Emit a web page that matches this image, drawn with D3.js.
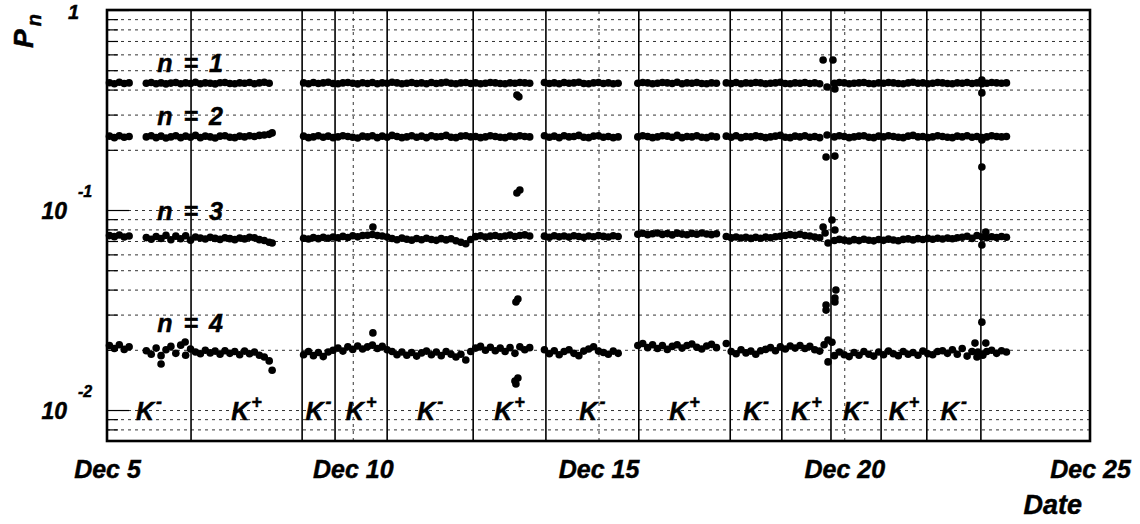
<!DOCTYPE html>
<html><head><meta charset="utf-8">
<script src="https://cdn.jsdelivr.net/npm/d3@7"></script>
<style>
html,body{margin:0;padding:0;background:#fff;}
svg text{font-family:"Liberation Sans",Arial,Helvetica,sans-serif;font-weight:bold;font-style:italic;fill:#000;stroke:#000;stroke-width:0.45px;}
</style></head><body>
<svg id="chart" width="1140" height="524"></svg>
<script>
// measurement times, days after Dec 5
const times = [
 0.05,0.15,0.25,0.35,0.45,
 0.8,0.9,1.0,1.1,1.2,1.3,1.4,1.5,1.6,1.7,1.8,1.9,2.0,2.1,2.2,2.3,2.4,2.5,2.6,2.7,2.8,2.9,3.0,3.1,3.2,3.3,
 4.0,4.1,4.2,4.3,4.4,4.5,4.6,4.7,4.8,4.9,5.0,5.1,5.2,5.3,5.4,5.5,5.6,5.7,5.8,5.9,6.0,6.1,6.2,6.3,6.4,6.5,6.6,6.7,6.8,6.9,7.0,7.1,7.2,7.3,7.4,7.5,7.6,7.7,7.8,7.9,8.0,8.1,8.2,8.3,8.4,8.5,8.6,
 8.9,9.0,9.1,9.2,9.3,9.4,9.5,9.6,9.7,9.8,9.9,10.0,10.1,10.2,10.3,10.4,
 10.8,10.9,11.0,11.1,11.2,11.3,11.4,11.5,11.6,11.7,11.8,11.9,12.0,12.1,12.2,12.3,12.4,
 12.6,12.7,12.8,12.9,13.0,13.1,13.2,13.3,13.4,13.5,13.6,13.7,13.8,13.9,14.0,14.1,14.2,14.3,14.4,14.5,
 14.8,14.9,15.0,15.1,15.2,15.3,15.4,15.5,15.6,15.7,15.8,15.9,16.0,16.1,16.2,16.3,16.4,16.5,16.6,16.7,16.8,16.9,17.0,17.1,17.2,17.3,17.4,17.5,17.6,17.7,17.8,17.9,18.0,18.1,18.2,18.3
];
const p1 = [
 .433,.428,.435,.429,.432,
 .430,.434,.428,.432,.427,.431,.434,.428,.432,.429,.435,.428,.432,.430,.427,.433,.434,.429,.428,.432,.430,.434,.428,.432,.435,.430,
 .432,.428,.434,.429,.432,.435,.429,.428,.432,.434,.430,.427,.433,.429,.434,.428,.432,.430,.435,.432,.428,.430,.434,.429,.432,.428,.434,.429,.432,.435,.430,.428,.432,.434,.429,.432,.428,.430,.434,.432,.429,.428,.432,.430,.434,.432,.430,
 .434,.429,.432,.428,.434,.430,.432,.435,.429,.428,.432,.434,.429,.432,.428,.430,
 .430,.434,.432,.428,.430,.434,.432,.429,.435,.428,.432,.430,.434,.429,.428,.432,.430,
 .432,.429,.434,.428,.432,.430,.434,.432,.428,.430,.432,.435,.429,.428,.432,.430,.434,.429,.432,.428,
 .430,.434,.432,.428,.430,.432,.434,.429,.428,.432,.430,.434,.432,.429,.428,.432,.435,.430,.432,.428,.430,.434,.432,.429,.428,.432,.430,.434,.429,.432,.428,.430,.434,.432,.430,.432
];
const p2 = [
 .234,.230,.235,.231,.233,
 .232,.235,.230,.234,.229,.232,.235,.230,.234,.231,.236,.230,.234,.232,.229,.234,.235,.231,.230,.234,.232,.235,.233,.236,.237,.239,
 .234,.230,.232,.235,.231,.234,.230,.232,.235,.233,.231,.229,.234,.232,.235,.230,.234,.231,.236,.233,.230,.232,.235,.231,.234,.230,.235,.232,.233,.236,.231,.230,.234,.235,.232,.233,.230,.232,.235,.233,.231,.230,.234,.232,.235,.233,.232,
 .235,.231,.234,.230,.235,.232,.233,.236,.231,.230,.234,.235,.231,.233,.230,.232,
 .232,.235,.233,.230,.232,.235,.234,.231,.236,.230,.233,.232,.235,.231,.230,.234,.232,
 .234,.231,.235,.230,.233,.232,.235,.233,.230,.232,.234,.236,.231,.230,.234,.232,.235,.231,.233,.230,
 .232,.235,.233,.230,.232,.234,.235,.231,.230,.234,.232,.235,.233,.231,.230,.234,.236,.232,.233,.230,.232,.235,.233,.231,.230,.234,.232,.235,.231,.233,.230,.232,.235,.233,.232,.233
];
const p3 = [
 .0745,.0736,.0750,.0733,.0742,
 .0728,.0714,.0737,.0720,.0747,.0710,.0740,.0718,.0744,.0707,.0733,.0724,.0716,.0730,.0721,.0713,.0727,.0719,.0711,.0725,.0717,.0731,.0726,.0711,.0704,.0690,
 .0722,.0716,.0728,.0719,.0730,.0722,.0733,.0727,.0738,.0729,.0743,.0734,.0746,.0748,.0754,.0745,.0741,.0732,.0720,.0710,.0725,.0714,.0707,.0720,.0710,.0723,.0712,.0705,.0719,.0709,.0718,.0702,.0690,.0678,.0712,.0736,.0743,.0732,.0740,.0746,.0735,.0742,.0749,.0737,.0746,.0751,.0742,
 .0740,.0731,.0743,.0734,.0741,.0732,.0744,.0737,.0730,.0742,.0735,.0745,.0738,.0733,.0743,.0737,
 .0757,.0765,.0753,.0761,.0768,.0755,.0762,.0751,.0766,.0758,.0752,.0764,.0756,.0767,.0759,.0753,.0761,
 .0737,.0727,.0733,.0724,.0731,.0721,.0730,.0723,.0732,.0726,.0735,.0739,.0746,.0753,.0747,.0756,.0745,.0741,.0732,.0727,
 .0704,.0713,.0707,.0700,.0711,.0703,.0714,.0706,.0701,.0712,.0705,.0715,.0708,.0702,.0713,.0717,.0709,.0719,.0712,.0721,.0714,.0723,.0716,.0725,.0718,.0727,.0731,.0739,.0721,.0746,.0732,.0726,.0735,.0728,.0737,.0731
];
const p4 = [
 .0210,.0203,.0212,.0201,.0207,
 .0198,.0190,.0204,.0187,.0200,.0208,.0192,.0211,.0188,.0202,.0195,.0191,.0199,.0193,.0197,.0190,.0198,.0192,.0196,.0189,.0197,.0191,.0195,.0188,.0184,.0176,
 .0189,.0196,.0187,.0194,.0185,.0195,.0199,.0204,.0197,.0207,.0201,.0209,.0202,.0207,.0211,.0203,.0208,.0200,.0196,.0189,.0195,.0188,.0194,.0186,.0193,.0197,.0189,.0195,.0187,.0196,.0190,.0184,.0190,.0178,.0196,.0204,.0208,.0199,.0206,.0198,.0204,.0196,.0205,.0192,.0207,.0200,.0205,
 .0200,.0191,.0198,.0189,.0196,.0200,.0192,.0187,.0197,.0202,.0207,.0197,.0194,.0190,.0197,.0192,
 .0210,.0215,.0205,.0212,.0203,.0210,.0201,.0208,.0212,.0204,.0210,.0214,.0206,.0202,.0209,.0213,.0205,
 .0215,.0196,.0191,.0200,.0193,.0197,.0190,.0198,.0201,.0205,.0198,.0207,.0202,.0209,.0204,.0210,.0203,.0208,.0200,.0197,
 .0187,.0195,.0189,.0185,.0194,.0188,.0196,.0190,.0186,.0195,.0189,.0197,.0191,.0187,.0196,.0190,.0194,.0188,.0197,.0191,.0189,.0196,.0198,.0192,.0200,.0190,.0203,.0186,.0196,.0184,.0190,.0196,.0199,.0192,.0198,.0195
];
// isolated points (beam transitions etc.)
const outlierT = [1.10,1.59,3.36,3.36,3.36,5.41,5.41,
 8.34,8.38,8.34,8.40,8.32,8.36,8.30,8.36,8.32,
 14.57,14.77,14.65,14.81,14.65,14.63,14.81,14.57,14.75,14.81,14.67,14.61,14.83,14.81,14.63,14.63,14.81,14.67,14.75,14.67,14.59,
 17.80,17.80,17.80,17.80,17.88,17.80,17.80,17.66,17.88,17.82,17.72];
const outlierP = [.0170,.0219,.0158,.0684,.243,.0822,.0243,
 .376,.368,.1216,.1259,.0347,.0359,.01396,.01445,.0135,
 .562,.562,.412,.403,.237,.184,.186,.0822,.0891,.0794,.0684,.0767,.0398,.0347,.0335,.0316,.0363,.0224,.0218,.0174,.0212,
 .447,.385,.224,.164,.0776,.0668,.0275,.0216,.0216,.0188,.0195];

const runEdges = [1.71,3.97,4.64,5.70,7.45,8.93,10.82,12.68,13.73,14.73,15.75,16.68,17.78];
const runCharge = ["-","+","-","+","-","+","-","+","-","+","-","+","-"];
const xTickDays = [0,5,10,15,20];
const xTickLabels = ["Dec 5","Dec 10","Dec 15","Dec 20","Dec 25"];
const yMajorTicks = [0.01,0.1,1];
const yMajorBase = ["10","10","1"];
const yMajorExp = ["-2","-1",""];
const yMinorTicks = [0.008,0.009,0.02,0.03,0.04,0.05,0.06,0.07,0.08,0.09,0.2,0.3,0.4,0.5,0.6,0.7,0.8,0.9];
const seriesN = ["1","2","3","4"];
const seriesLabelP = [0.49,0.266,0.0891,0.0245];

const W=1140,H=524,m={left:107,top:10,right:50,bottom:83};
const pw=W-m.left-m.right, ph=H-m.top-m.bottom;
const x=d3.scaleLinear().domain([0,20]).range([m.left,W-m.right]);
const y=d3.scaleLog().domain([0.007,1]).range([H-m.bottom,m.top]);
const svg=d3.select('#chart');

// horizontal dotted grid
svg.append('g').attr('transform',`translate(${m.left},0)`)
 .call(d3.axisLeft(y).tickValues(yMinorTicks.concat([0.01,0.1])).tickSize(-pw).tickFormat(''))
 .call(g=>g.select('.domain').remove())
 .call(g=>g.selectAll('.tick line').attr('stroke','#333').attr('stroke-width',1).attr('stroke-dasharray','3,4'));
// vertical dotted grid
svg.append('g').attr('transform',`translate(0,${H-m.bottom})`)
 .call(d3.axisBottom(x).tickValues([5,10,15]).tickSize(-ph).tickFormat(''))
 .call(g=>g.select('.domain').remove())
 .call(g=>g.selectAll('.tick line').attr('stroke','#333').attr('stroke-width',1).attr('stroke-dasharray','3,4'));

// run boundaries
svg.append('g').selectAll('line').data(runEdges).join('line')
 .attr('x1',d=>x(d)).attr('x2',d=>x(d)).attr('y1',m.top).attr('y2',H-m.bottom)
 .attr('stroke','#000').attr('stroke-width',1.6);

// y ticks (inside)
svg.append('g').attr('transform',`translate(${m.left},0)`)
 .call(d3.axisLeft(y).tickValues(yMajorTicks).tickSize(-22).tickFormat(''))
 .call(g=>g.select('.domain').remove())
 .call(g=>g.selectAll('.tick line').attr('stroke','#000').attr('stroke-width',1.2));
svg.append('g').attr('transform',`translate(${m.left},0)`)
 .call(d3.axisLeft(y).tickValues(yMinorTicks).tickSize(-11).tickFormat(''))
 .call(g=>g.select('.domain').remove())
 .call(g=>g.selectAll('.tick line').attr('stroke','#000').attr('stroke-width',1.2));

// x labels
svg.append('g').attr('transform',`translate(0,${H-m.bottom})`)
 .call(d3.axisBottom(x).tickValues(xTickDays).tickSize(0).tickPadding(19).tickFormat((d,i)=>xTickLabels[i]))
 .call(g=>g.select('.domain').remove())
 .call(g=>g.selectAll('.tick text').style('font-size','25px'));

// y labels
yMajorTicks.forEach((v,i)=>{
  if(yMajorExp[i]){
    svg.append('text').attr('x',67).attr('y',y(v)+9).attr('text-anchor','end').style('font-size','23px').text(yMajorBase[i]);
    svg.append('text').attr('x',78).attr('y',y(v)-13).attr('text-anchor','start').style('font-size','16px').text(yMajorExp[i]);
  } else {
    svg.append('text').attr('x',68).attr('y',y(v)+9).attr('text-anchor','start').style('font-size','20px').text(yMajorBase[i]);
  }
});

// data points
const pts=[];
[p1,p2,p3,p4].forEach(s=>{ times.forEach((t,i)=>{ if(s[i]!==undefined) pts.push({t:t,p:s[i]}); }); });
outlierT.forEach((t,i)=>pts.push({t:t,p:outlierP[i]}));
svg.append('g').selectAll('circle').data(pts).join('circle')
 .attr('cx',d=>x(d.t)).attr('cy',d=>y(d.p)).attr('r',3.8).attr('fill','#000');

// frame
svg.append('rect').attr('x',m.left).attr('y',m.top).attr('width',pw).attr('height',ph)
 .attr('fill','none').attr('stroke','#000').attr('stroke-width',2.6);

// series labels
seriesN.forEach((n,i)=>{
  const t=svg.append('text').attr('x',x(1.02)).attr('y',y(seriesLabelP[i])).style('font-size','25px');
  t.append('tspan').text('n');
  t.append('tspan').attr('dx',11).text('=');
  t.append('tspan').attr('dx',11).text(n);
});

// beam charge labels
runCharge.forEach((c,i)=>{
  const a=i===0?0:runEdges[i-1], b=runEdges[i];
  const t=svg.append('text').attr('x',x((a+b)/2)).attr('y',y(0.0089)).attr('text-anchor','middle').style('font-size','25px');
  t.append('tspan').text('K');
  t.append('tspan').attr('dx',2).attr('dy',-12).style('font-size','18px').text(c);
});

// axis titles
const pt=svg.append('text').attr('transform','translate(33,14) rotate(-90)').attr('text-anchor','end');
pt.append('tspan').style('font-size','28px').text('P');
pt.append('tspan').attr('dx',3).attr('dy',8).style('font-size','20px').text('n');
svg.append('text').attr('x',1082).attr('y',514).attr('text-anchor','end').style('font-size','27px').text('Date');
</script>
</body></html>
